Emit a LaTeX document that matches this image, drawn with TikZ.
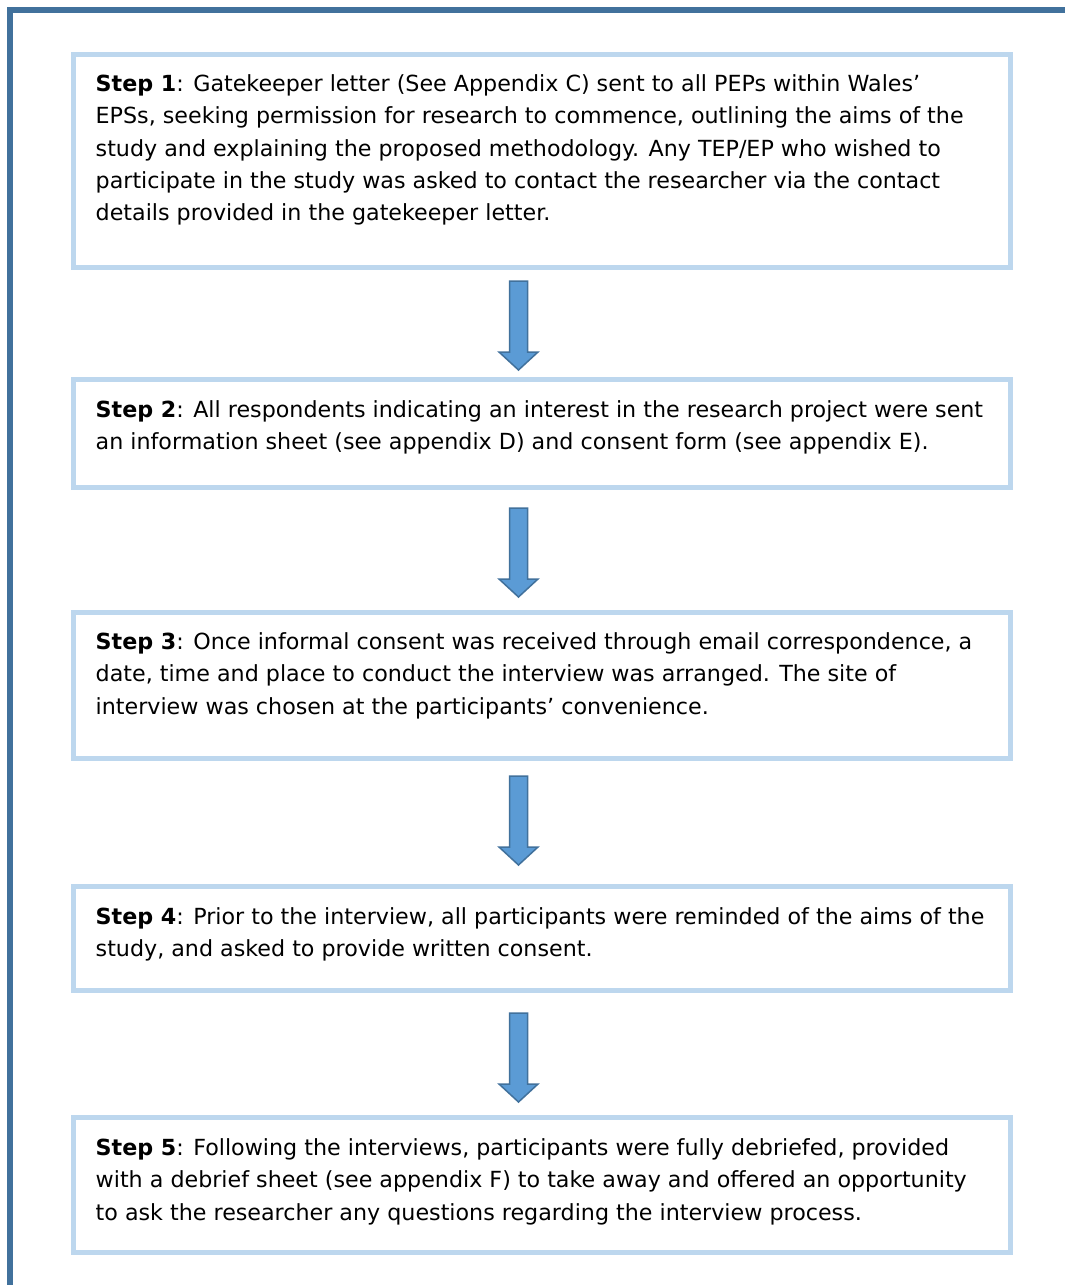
\documentclass[tikz,border=0pt]{standalone}
\usepackage{fontspec}
\setmainfont{DejaVu Sans}
\usetikzlibrary{calc}
\definecolor{framecol}{HTML}{41719C}
\definecolor{boxcol}{HTML}{BDD7EE}
\definecolor{arrfill}{HTML}{5B9BD5}
\definecolor{arrline}{HTML}{41719C}
\tikzset{
  stepbox/.style={draw=boxcol, line width=5pt, rectangle, minimum width=937pt, inner sep=0pt, fill=white},
  steptext/.style={anchor=north west, inner sep=0pt, align=left, font=\fontsize{22.2}{32.3}\selectfont, text=black},
  blockarr/.style={fill=arrfill, draw=arrline, line width=1.5pt, line join=miter}
}
\newcommand{\flowarrow}[4]{%
  \coordinate (#1-top) at ($(#1.south)+(-23.5,#3)$);
  \coordinate (#2-tip) at ($(#2.north)+(-23.5,-#4)$);
  \draw[blockarr] let \p1=(#1-top), \p2=(#2-tip) in
    (\x1-9pt,\y1) -- (\x1+9pt,\y1) -- (\x1+9pt,\y2+18pt) -- (\x1+19.5pt,\y2+18pt)
    -- (\x1,\y2) -- (\x1-19.5pt,\y2+18pt) -- (\x1-9pt,\y2+18pt) -- cycle;
}
\begin{document}
\begin{tikzpicture}[x=1pt,y=-1pt]
\useasboundingbox (0,0) rectangle (1065,1285);
\fill[white] (0,0) rectangle (1065,1285);
% outer frame
\coordinate (fbl) at (10,1290);
\coordinate (ftl) at (10,10);
\coordinate (ftr) at (1070,10);
\draw[framecol, line width=6pt] (fbl) -- (ftl) -- (ftr);
% boxes
\node[stepbox, minimum height=213pt] (b1) at (542,161) {};
\node[stepbox, minimum height=108pt] (b2) at (542,433.5) {};
\node[stepbox, minimum height=146pt] (b3) at (542,685.5) {};
\node[stepbox, minimum height=104pt] (b4) at (542,938.5) {};
\node[stepbox, minimum height=135pt] (b5) at (542,1185) {};
% texts
\node[steptext] (t1) at (95.5,68.6) {\strut\textbf{Step 1}: Gatekeeper letter (See Appendix C) sent to all PEPs within Wales’\\
EPSs, seeking permission for research to commence, outlining the aims of the\\
study and explaining the proposed methodology. Any TEP/EP who wished to\\
participate in the study was asked to contact the researcher via the contact\\
details provided in the gatekeeper letter.};
\node[steptext] (t2) at (95.5,394.6) {\strut\textbf{Step 2}: All respondents indicating an interest in the research project were sent\\
an information sheet (see appendix D) and consent form (see appendix E).};
\node[steptext] (t3) at (95.5,626.6) {\strut\textbf{Step 3}: Once informal consent was received through email correspondence, a\\
date, time and place to conduct the interview was arranged. The site of\\
interview was chosen at the participants’ convenience.};
\node[steptext] (t4) at (95.5,901.6) {\strut\textbf{Step 4}: Prior to the interview, all participants were reminded of the aims of the\\
study, and asked to provide written consent.};
\node[steptext] (t5) at (95.5,1132.6) {\strut\textbf{Step 5}: Following the interviews, participants were fully debriefed, provided\\
with a debrief sheet (see appendix F) to take away and offered an opportunity\\
to ask the researcher any questions regarding the interview process.};
% arrows
\flowarrow{b1}{b2}{11}{7}
\flowarrow{b2}{b3}{18}{13}
\flowarrow{b3}{b4}{15}{19}
\flowarrow{b4}{b5}{20}{13}
\end{tikzpicture}
\end{document}
